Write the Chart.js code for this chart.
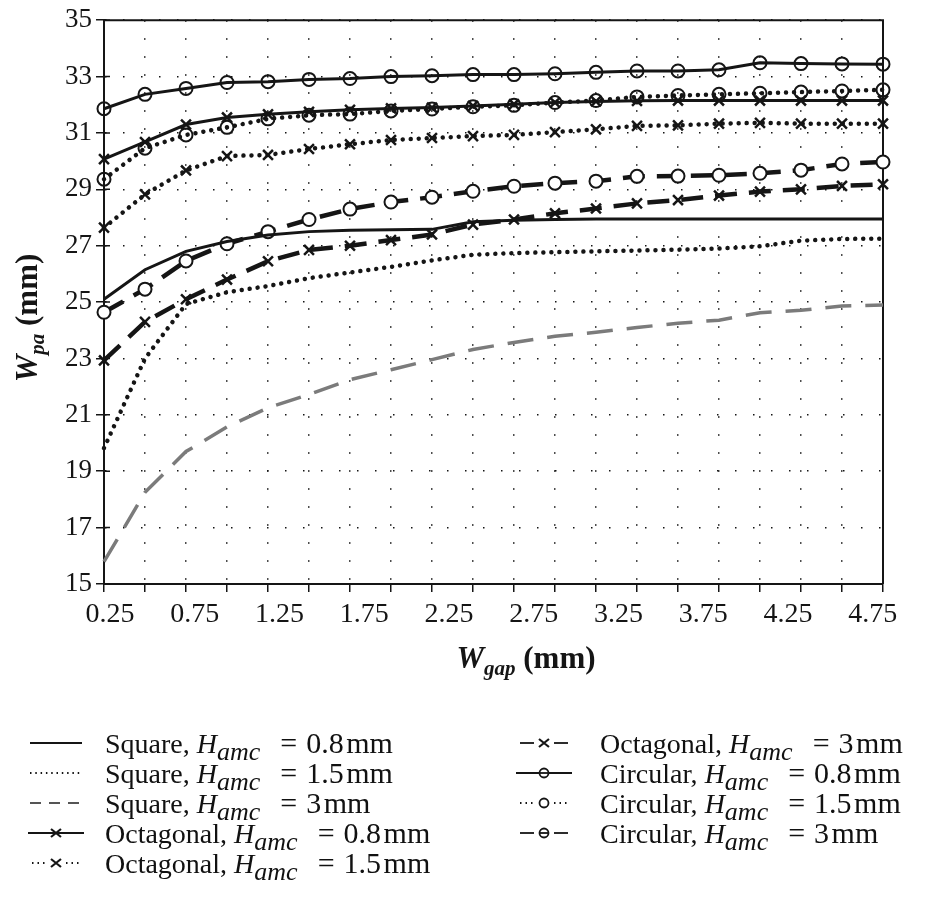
<!DOCTYPE html>
<html>
<head>
<meta charset="utf-8">
<script src="https://cdn.jsdelivr.net/npm/chart.js@4.4.1/dist/chart.umd.min.js"></script>
<style>
  body { margin: 0; background: #fff; }
  #wrap { position: relative; width: 925px; height: 907px; }
  #legend { position: absolute; left: 0; top: 0; width: 925px; height: 907px; pointer-events: none;
            font-family: "Liberation Serif", "Times New Roman", serif; font-size: 28px; color: #111; }
  .item { position: absolute; height: 30px; line-height: 30px; white-space: nowrap; }
  .item svg { position: absolute; left: 0; top: 0; }
  .item span.txt { position: absolute; top: 0; }
  .item .val { font-size: 30px; }
  .item .eq { margin: 0 9px 0 20px; }
  sub { font-size: 26px; vertical-align: -7px; line-height: 0; }
</style>
</head>
<body>
<div id="wrap">
  <canvas id="chart" width="925" height="907"></canvas>
  <div id="legend"></div>
</div>
<script>
// ===== Data =====
// 20 sample positions along W_gap (markers sit on every dotted grid column)
const samples = [1, 2, 3, 4, 5, 6, 7, 8, 9, 10, 11, 12, 13, 14, 15, 16, 17, 18, 19, 20];
const xTickLabels = ["0.25", "0.75", "1.25", "1.75", "2.25", "2.75", "3.25", "3.75", "4.25", "4.75"];
const yTickValues = [15, 17, 19, 21, 23, 25, 27, 29, 31, 33, 35];

const shapes = ["Square", "Square", "Square", "Octagonal", "Octagonal", "Octagonal", "Circular", "Circular", "Circular"];
const hamc = ["0.8", "1.5", "3", "0.8", "1.5", "3", "0.8", "1.5", "3"];

const squareH08 = [25.1, 26.15, 26.8, 27.15, 27.38, 27.5, 27.55, 27.57, 27.58, 27.85, 27.9, 27.93, 27.95, 27.95, 27.95, 27.95, 27.95, 27.95, 27.95, 27.95];
const squareH15 = [19.82, 23.0, 24.93, 25.35, 25.57, 25.85, 26.05, 26.25, 26.48, 26.68, 26.74, 26.77, 26.8, 26.83, 26.86, 26.9, 26.98, 27.18, 27.24, 27.25];
const squareH3 = [15.79, 18.25, 19.7, 20.57, 21.25, 21.72, 22.25, 22.6, 22.96, 23.32, 23.57, 23.79, 23.93, 24.1, 24.25, 24.36, 24.62, 24.71, 24.86, 24.9];
const octH08 = [30.07, 30.68, 31.3, 31.55, 31.66, 31.75, 31.82, 31.87, 31.9, 31.96, 32.02, 32.08, 32.12, 32.14, 32.15, 32.15, 32.15, 32.15, 32.15, 32.15];
const octH15 = [27.64, 28.82, 29.67, 30.18, 30.22, 30.43, 30.6, 30.75, 30.82, 30.89, 30.93, 31.03, 31.13, 31.25, 31.27, 31.33, 31.36, 31.33, 31.33, 31.33];
const octH3 = [22.93, 24.3, 25.1, 25.8, 26.45, 26.85, 27.0, 27.2, 27.4, 27.75, 27.93, 28.15, 28.32, 28.5, 28.62, 28.78, 28.92, 29.0, 29.12, 29.18];
const circH08 = [31.86, 32.37, 32.58, 32.79, 32.82, 32.9, 32.93, 33.0, 33.03, 33.07, 33.07, 33.1, 33.15, 33.2, 33.2, 33.24, 33.49, 33.46, 33.45, 33.44];
const circH15 = [29.36, 30.46, 30.93, 31.2, 31.5, 31.63, 31.67, 31.78, 31.85, 31.93, 31.98, 32.08, 32.15, 32.28, 32.33, 32.37, 32.41, 32.45, 32.49, 32.53];
const circH3 = [24.64, 25.46, 26.46, 27.07, 27.5, 27.93, 28.3, 28.55, 28.72, 28.93, 29.11, 29.22, 29.29, 29.46, 29.47, 29.5, 29.57, 29.68, 29.9, 29.97];

// ===== Styles =====
const ink = "#151515";
const serif = "'Liberation Serif', 'Times New Roman', serif";
const solid = { borderWidth: 3, borderDash: [] };
const dotted = { borderWidth: 4.5, borderDash: [0.01, 8], borderCapStyle: "round" };
const dashed = { borderWidth: 4.5, borderDash: [22, 12] };
const cross = { pointStyle: "crossRot", pointRadius: 7, pointBorderWidth: 2.5 };
const ring = { pointStyle: "circle", pointRadius: 6.5, pointBorderWidth: 2, pointBackgroundColor: "rgba(255,255,255,0)" };

function series(i, data, style, kind) {
  return Object.assign({
    label: shapes[i] + ", H_amc = " + hamc[i] + " mm",
    data,
    borderColor: ink,
    backgroundColor: ink,
    pointBorderColor: ink,
    pointRadius: 0,
    tension: 0,
    fill: false,
    clip: false,
    kind
  }, style);
}

const datasets = [
  series(0, squareH08, solid, "solid"),
  series(1, squareH15, dotted, "dot"),
  series(2, squareH3, { borderWidth: 3.5, borderDash: [26, 14], borderColor: "#7b7b7b" }, "dash"),
  series(3, octH08, Object.assign({}, solid, cross), "solid"),
  series(4, octH15, Object.assign({}, dotted, cross), "dot"),
  series(5, octH3, Object.assign({}, dashed, cross), "dash"),
  series(6, circH08, Object.assign({}, solid, ring), "solid"),
  series(7, circH15, Object.assign({}, dotted, ring), "dot"),
  series(8, circH3, Object.assign({}, dashed, ring, { pointBackgroundColor: "#fff" }), "dash")
];

// ===== Axis titles + frame =====
function drawParts(ctx, parts, cx, baseY) {
  let w = 0;
  parts.forEach(p => { ctx.font = p.font; p.w = ctx.measureText(p.text).width; w += p.w; });
  let x = cx - w / 2;
  parts.forEach(p => { ctx.font = p.font; ctx.fillText(p.text, x, baseY + p.dy); x += p.w; });
}

const framePlugin = {
  id: "frame",
  beforeDatasetsDraw(chart) {
    const { ctx, chartArea: a, scales } = chart;
    ctx.save();
    ctx.strokeStyle = ink;
    ctx.lineWidth = 2;
    ctx.beginPath();
    ctx.moveTo(a.left, a.top);
    ctx.lineTo(a.right, a.top);
    ctx.lineTo(a.right, a.bottom);
    ctx.stroke();
    ctx.lineWidth = 1.5;
    ctx.beginPath();
    yTickValues.forEach(v => {
      const py = scales.y.getPixelForValue(v);
      ctx.moveTo(a.left, py);
      ctx.lineTo(a.left + 6, py);
    });
    ctx.stroke();
    ctx.restore();
  },
  afterDraw(chart) {
    const { ctx } = chart;
    ctx.save();
    ctx.fillStyle = ink;
    ctx.textBaseline = "alphabetic";
    const big = 31, small = 21;
    drawParts(ctx, [
      { text: "W", font: `italic bold ${big}px ${serif}`, dy: 0 },
      { text: "gap", font: `italic bold ${small}px ${serif}`, dy: 7 },
      { text: " (mm)", font: `bold ${big}px ${serif}`, dy: 0 }
    ], 526, 668);
    ctx.translate(37, 318);
    ctx.rotate(-Math.PI / 2);
    drawParts(ctx, [
      { text: "W", font: `italic bold ${big}px ${serif}`, dy: 0 },
      { text: "pa", font: `italic bold ${small}px ${serif}`, dy: 7 },
      { text: " (mm)", font: `bold ${big}px ${serif}`, dy: 0 }
    ], 0, 0);
    ctx.restore();
  }
};

// ===== Chart =====
const chart = new Chart(document.getElementById("chart"), {
  type: "line",
  data: { labels: samples, datasets },
  options: {
    responsive: false,
    animation: false,
    events: [],
    layout: { padding: { left: 0, right: 42, top: 19, bottom: 0 } },
    plugins: { legend: { display: false }, tooltip: { enabled: false } },
    scales: {
      x: {
        type: "category",
        position: "bottom",
        offset: false,
        ticks: { display: false, autoSkip: false },
        grid: { color: ink, lineWidth: 1.5, drawTicks: true, tickLength: 8, tickColor: ink, tickWidth: 1.5, offset: false },
        border: { display: true, color: ink, width: 2, dash: [1.5, 16.5] },
        afterFit: s => { s.height = 8; }
      },
      xl: {
        // label axis: the printed labels sit slightly inside the outer grid columns
        type: "linear",
        position: "bottom",
        min: 0.215,
        max: 4.81,
        afterBuildTicks: s => { s.ticks = xTickLabels.map(v => ({ value: parseFloat(v) })); },
        ticks: {
          autoSkip: false, maxRotation: 0, padding: 6, color: ink,
          font: { family: serif, size: 28 },
          callback: (v, i) => xTickLabels[i]
        },
        grid: { display: false, drawTicks: false },
        border: { display: false },
        afterFit: s => { s.height = 907 - 584 - 8; }
      },
      y: {
        type: "linear",
        min: 15,
        max: 35,
        afterBuildTicks: s => { s.ticks = yTickValues.map(v => ({ value: v })); },
        ticks: { padding: 4, color: ink, font: { family: serif, size: 27 } },
        grid: { color: ink, lineWidth: 1.5, tickLength: 8, tickColor: ink, tickWidth: 1.5 },
        border: { display: true, color: ink, width: 2, dash: [1.5, 16.5] },
        afterFit: s => { s.width = 104; }
      }
    }
  },
  plugins: [framePlugin]
});

// ===== HTML legend =====
function seg(x1, x2, y, dash, color) {
  return `<line x1="${x1}" y1="${y}" x2="${x2}" y2="${y}" stroke="${color}" stroke-width="1.8" ${dash}/>`;
}

function sampleSvg(ds, w) {
  const y = 15, cx = w / 2;
  const color = ds.pointStyle ? ink : (ds.borderColor === ink ? ink : "#555");
  let body = "";
  if (!ds.pointStyle) {
    let dash = "";
    if (ds.kind === "dot") dash = 'stroke-dasharray="1.5 3.8"';
    if (ds.kind === "dash") dash = 'stroke-dasharray="11 8"';
    body = seg(2, w - 2, y, dash, color);
  } else {
    if (ds.kind === "solid") body = seg(0, w, y, "", color);
    if (ds.kind === "dot") body = seg(4, cx - 9, y, 'stroke-dasharray="1.5 4"', color) + seg(cx + 10, w - 2, y, 'stroke-dasharray="1.5 4"', color);
    if (ds.kind === "dash") body = seg(4, cx - 10, y, "", color) + seg(cx + 10, w - 4, y, "", color);
    if (ds.pointStyle === "crossRot") {
      body += `<path d="M${cx - 5} ${y - 4}L${cx + 5} ${y + 4}M${cx - 5} ${y + 4}L${cx + 5} ${y - 4}" stroke="${ink}" stroke-width="2.2"/>`;
    } else {
      body += `<circle cx="${cx}" cy="${y}" r="4.5" fill="#fff" stroke="${ink}" stroke-width="1.8"/>`;
      if (ds.kind !== "dot") body += seg(cx - 4.5, cx + 4.5, y, "", ink);
    }
  }
  return `<svg width="${w}" height="30">${body}</svg>`;
}

const legendEl = document.getElementById("legend");
chart.data.datasets.forEach((ds, i) => {
  const col = i < 5 ? 0 : 1;
  const row = i < 5 ? i : i - 5;
  const item = document.createElement("div");
  item.className = "item";
  item.style.left = (col === 0 ? 28 : 516) + "px";
  item.style.top = (728 + row * 30) + "px";
  item.innerHTML = sampleSvg(ds, 56) +
    `<span class="txt" style="left:${col === 0 ? 77 : 84}px">${shapes[i]}, <i>H</i><sub><i>amc</i></sub>` +
    `<span class="val"><span class="eq">=</span>${hamc[i]}&#8202;mm</span></span>`;
  legendEl.appendChild(item);
});
</script>
</body>
</html>
